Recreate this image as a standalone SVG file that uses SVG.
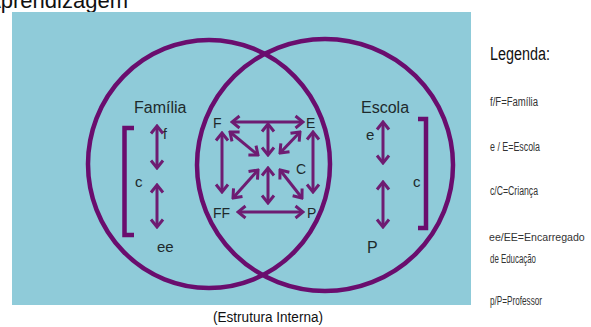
<svg xmlns="http://www.w3.org/2000/svg" width="591" height="327" viewBox="0 0 591 327">
<defs>
<style>
.bg{fill:#8fcbd9}
.ring{fill:none;stroke:#6a0d6e;stroke-width:4.5}
.arr{stroke:#6e1c72;stroke-width:3;fill:none;marker-start:url(#head);marker-end:url(#head)}
.br{fill:none;stroke:#6a0d6e;stroke-width:4.5}
.lbl{font-family:"Liberation Sans",Arial,sans-serif;fill:#1e2a2c}
.big{font-size:16px}
.mid{font-size:15px}
.ctr{font-size:14px}
.leg{font-family:"Liberation Sans",Arial,sans-serif;font-size:12.5px;fill:#333}
</style>
<marker id="head" viewBox="-10 -8 12 16" markerWidth="12" markerHeight="16" refX="0" refY="0" orient="auto-start-reverse" markerUnits="userSpaceOnUse">
<path d="M-7.5,-6 L0,0 L-7.5,6" fill="none" stroke="#6e1c72" stroke-width="3"/>
</marker>
</defs>
<text x="128" y="8" text-anchor="end" font-family="Liberation Sans,Arial,sans-serif" font-size="22" fill="#111">Aprendizagem</text>
<rect class="bg" x="12" y="12" width="459" height="293"/>
<g id="circle-familia"><ellipse class="ring" cx="209" cy="164" rx="121" ry="124"/></g>
<g id="circle-escola"><ellipse class="ring" cx="325" cy="165" rx="128" ry="126"/></g>
<g id="familia">
<text class="lbl big" x="134" y="113">Família</text>
<path class="br" d="M134,128 H124.5 V235 H134"/>
<text class="lbl ctr" x="163" y="139">f</text>
<text class="lbl mid" x="135" y="187">c</text>
<text class="lbl mid" x="157" y="252">ee</text>
</g>
<g id="escola">
<text class="lbl big" x="361" y="113">Escola</text>
<path class="br" d="M418,119 H426 V228 H418"/>
<text class="lbl mid" x="366" y="140">e</text>
<text class="lbl mid" x="413" y="187">c</text>
<text class="lbl big" x="367" y="253">P</text>
</g>
<g id="centro">
<text class="lbl ctr" x="213" y="128">F</text>
<text class="lbl ctr" x="306" y="128">E</text>
<text class="lbl ctr" x="296" y="174" fill="#2e3d40">C</text>
<text class="lbl ctr" x="213" y="218">FF</text>
<text class="lbl ctr" x="307" y="218">P</text>
</g>
<g id="connectors">
<line class="arr" x1="157" y1="126" x2="157" y2="168"/>
<line class="arr" x1="157" y1="185" x2="157" y2="227"/>
<line class="arr" x1="383" y1="122" x2="383" y2="163"/>
<line class="arr" x1="383" y1="182" x2="383" y2="227"/>
<line class="arr" x1="232" y1="122" x2="303" y2="122"/>
<line class="arr" x1="238" y1="212" x2="303" y2="212"/>
<line class="arr" x1="222" y1="133" x2="222" y2="192"/>
<line class="arr" x1="313" y1="132" x2="313" y2="192"/>
<line class="arr" x1="268" y1="124" x2="268" y2="155"/>
<line class="arr" x1="268" y1="168" x2="268" y2="203"/>
<line class="arr" x1="230" y1="132" x2="258" y2="155"/>
<line class="arr" x1="300" y1="132" x2="280" y2="153"/>
<line class="arr" x1="258" y1="170" x2="233" y2="198"/>
<line class="arr" x1="280" y1="170" x2="302" y2="198"/>
</g>
<text x="268" y="322" text-anchor="middle" font-family="Liberation Sans,Arial,sans-serif" font-size="14" fill="#111" textLength="110" lengthAdjust="spacingAndGlyphs">(Estrutura Interna)</text>
<g id="legenda">
<text x="490" y="60" font-family="Liberation Sans,Arial,sans-serif" font-size="18" fill="#111" textLength="60" lengthAdjust="spacingAndGlyphs">Legenda:</text>
<text class="leg" x="490" y="106" textLength="48" lengthAdjust="spacingAndGlyphs">f/F=Família</text>
<text class="leg" x="490" y="151" textLength="50" lengthAdjust="spacingAndGlyphs">e / E=Escola</text>
<text class="leg" x="490" y="195" textLength="48" lengthAdjust="spacingAndGlyphs">c/C=Criança</text>
<text x="489" y="241" font-family="Liberation Sans,Arial,sans-serif" font-size="10.6" fill="#333">ee/EE=Encarregado</text>
<text class="leg" x="490" y="263" textLength="46" lengthAdjust="spacingAndGlyphs">de Educação</text>
<text class="leg" x="490" y="305" textLength="52" lengthAdjust="spacingAndGlyphs">p/P=Professor</text>
</g>
</svg>
